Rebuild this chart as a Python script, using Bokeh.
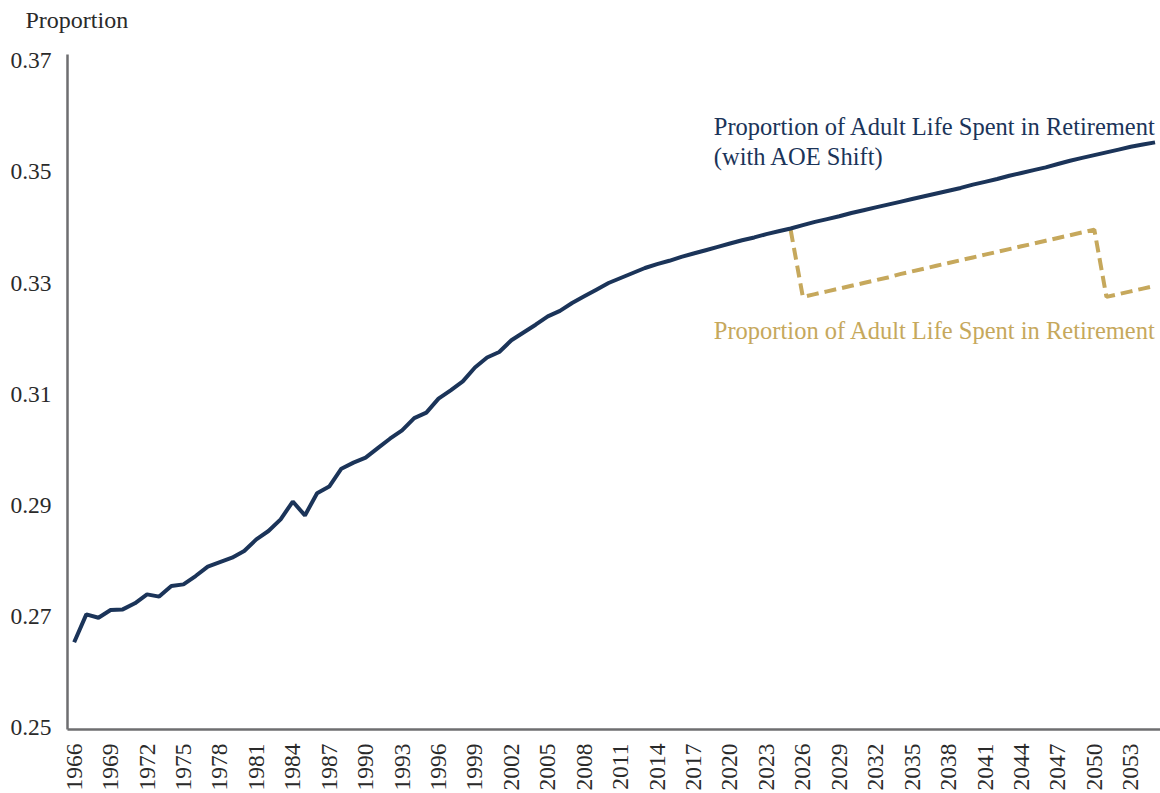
import math
from bokeh.plotting import figure
from bokeh.models import Range1d, FixedTicker, NumeralTickFormatter, Label, CustomJSTickFormatter
from bokeh.embed import file_html
from bokeh.resources import INLINE

years = list(range(1966, 2056))
with_aoe_shift = [
    0.2654, 0.2704, 0.2698, 0.2712, 0.2713, 0.2724, 0.2740, 0.2736, 0.2755, 0.2758,
    0.2773, 0.2790, 0.2798, 0.2806, 0.2818, 0.2839, 0.2854, 0.2875, 0.2907, 0.2882,
    0.2922, 0.2934, 0.2966, 0.2977, 0.2986, 0.3003, 0.3020, 0.3035, 0.3057, 0.3067,
    0.3092, 0.3107, 0.3123, 0.3148, 0.3166, 0.3176, 0.3197, 0.3211, 0.3225, 0.3240,
    0.3250, 0.3264, 0.3276, 0.3288, 0.3300, 0.3309, 0.3318, 0.3327, 0.3334, 0.3340,
    0.3347, 0.3353, 0.3359, 0.3365, 0.3371, 0.3377, 0.3382, 0.3388, 0.3393, 0.3398,
    0.3404, 0.3410, 0.3415, 0.3420, 0.3426, 0.3431, 0.3436, 0.3441, 0.3446, 0.3451,
    0.3456, 0.3461, 0.3466, 0.3471, 0.3477, 0.3482, 0.3487, 0.3493, 0.3498, 0.3503,
    0.3508, 0.3514, 0.3520, 0.3525, 0.3530, 0.3535, 0.3540, 0.3545, 0.3549, 0.3553,
]
base_years = list(range(2025, 2056))
baseline = [
    0.3395, 0.3275, 0.3280, 0.3285, 0.3290, 0.3295, 0.3300, 0.3305, 0.3310, 0.3316,
    0.3321, 0.3326, 0.3331, 0.3336, 0.3341, 0.3346, 0.3351, 0.3356, 0.3361, 0.3366,
    0.3371, 0.3376, 0.3381, 0.3386, 0.3391, 0.3396, 0.3275, 0.3280, 0.3285, 0.3290,
    0.3295,
]
x_tick_years = list(range(1966, 2054, 3))
y_ticks = [0.25, 0.27, 0.29, 0.31, 0.33, 0.35, 0.37]

NAVY = "#1b3459"
GOLD = "#c6a85c"
AXIS = "#6e6e70"
TEXT = "#2a2a2a"
FONT = "Liberation Serif"

p = figure(width=1160, height=793, output_backend="svg", toolbar_location=None,
           x_range=Range1d(1965.45, 2055.45), y_range=Range1d(0.2497, 0.3711),
           min_border_left=67, min_border_top=54, min_border_right=0, min_border_bottom=62)
p.outline_line_color = None
p.xgrid.visible = False
p.ygrid.visible = False
p.background_fill_color = "white"
p.border_fill_color = "white"

p.title.text = "Proportion\n "
p.title.align = "left"
p.title.vertical_align = "top"
p.title.offset = -42
p.title.standoff = 0
p.title.text_line_height = 0.75
p.title.text_font = FONT
p.title.text_font_size = "24px"
p.title.text_font_style = "normal"
p.title.text_color = TEXT

for ax in (p.xaxis[0], p.yaxis[0]):
    ax.axis_line_color = AXIS
    ax.axis_line_width = 2.5
    ax.major_tick_line_color = None
    ax.minor_tick_line_color = None
    ax.major_label_text_font = FONT
    ax.major_label_text_font_size = "23.5px"
    ax.major_label_text_color = TEXT

p.yaxis.ticker = FixedTicker(ticks=y_ticks)
p.yaxis.formatter = NumeralTickFormatter(format="0.00")
p.yaxis.major_label_standoff = 10
p.xaxis.ticker = FixedTicker(ticks=x_tick_years)
p.xaxis.formatter = CustomJSTickFormatter(code="return tick.toFixed(0);")
p.xaxis.major_label_orientation = math.pi / 2
p.xaxis.major_label_standoff = 8

p.line(base_years, baseline, line_color=GOLD, line_width=4, line_dash="12 6")
p.line(years, with_aoe_shift, line_color=NAVY, line_width=4)

p.add_layout(Label(x=2018.67, y=0.35816, text="Proportion of Adult Life Spent in Retirement",
                   text_font=FONT, text_font_size="24.5px", text_color=NAVY, text_baseline="alphabetic"))
p.add_layout(Label(x=2018.67, y=0.35278, text="(with AOE Shift)",
                   text_font=FONT, text_font_size="24.5px", text_color=NAVY, text_baseline="alphabetic"))
p.add_layout(Label(x=2018.67, y=0.3214, text="Proportion of Adult Life Spent in Retirement",
                   text_font=FONT, text_font_size="24.5px", text_color=GOLD, text_baseline="alphabetic"))

open("out.html", "w").write(file_html(p, INLINE))
